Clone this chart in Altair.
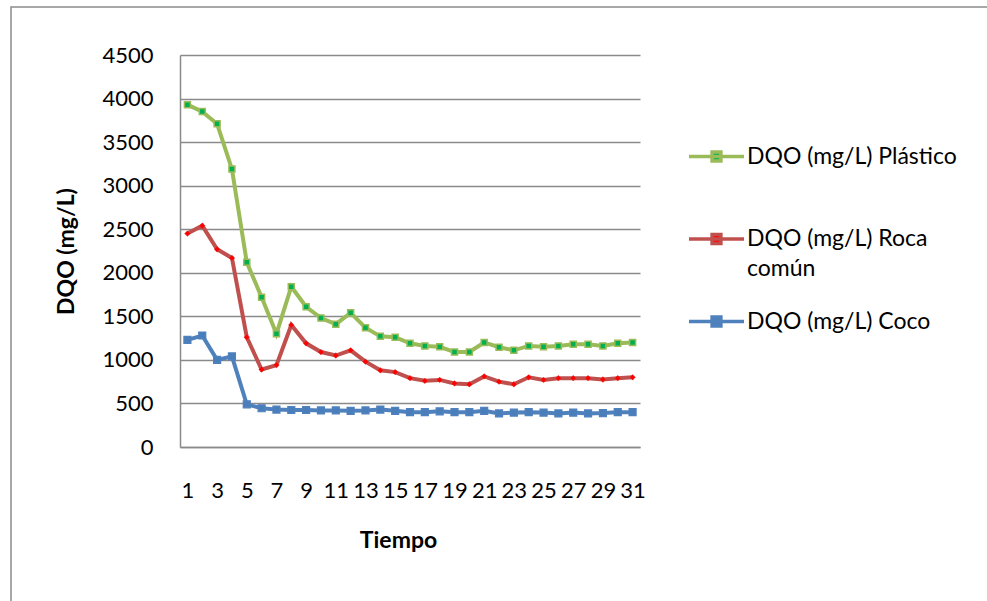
import altair as alt
import pandas as pd

# Time steps (days) and measured COD (DQO) for each filter medium
tiempo = list(range(1, 32))
plastico = [3930, 3850, 3710, 3190, 2120, 1720, 1300, 1840, 1610, 1480, 1410,
            1540, 1370, 1270, 1260, 1190, 1160, 1150, 1090, 1090, 1200, 1145,
            1110, 1160, 1150, 1160, 1180, 1180, 1160, 1190, 1200]
roca = [2450, 2540, 2270, 2170, 1260, 890, 940, 1400, 1190, 1090, 1050,
        1110, 980, 880, 860, 790, 760, 770, 730, 720, 810, 750,
        720, 800, 770, 790, 790, 790, 775, 790, 800]
coco = [1230, 1280, 1000, 1040, 490, 445, 430, 425, 425, 420, 420,
        415, 420, 430, 415, 400, 400, 410, 400, 400, 415, 385,
        395, 400, 395, 385, 395, 385, 390, 400, 400]

series = ["DQO (mg/L) Plástico", "DQO (mg/L) Roca común", "DQO (mg/L) Coco"]
line_colors = ["#9BBB59", "#C0504D", "#4F81BD"]
marker_fills = ["#00B050", "#FF0000", "#4A7EBB"]
x_ticks = list(range(1, 32, 2))
y_ticks = list(range(0, 4501, 500))

rows = []
for name, vals in zip(series, [plastico, roca, coco]):
    for t, v in zip(tiempo, vals):
        rows.append({"Tiempo": t, "DQO": v, "Serie": name})
df = pd.DataFrame(rows)

FONT = "Lato"
GRID = "#8A8A8A"

legend = alt.Legend(
    title=None,
    orient="none",
    legendX=507,
    legendY=72,
    padding=0,
    gridAlign="all",
    symbolType="M-1,0H1M-0.16,-0.16H0.16V0.16H-0.16Z",
    symbolSize=3025,
    symbolStrokeWidth=3.5,
    symbolOpacity=1,
    labelFont=FONT,
    labelFontSize=23,
    labelColor="#000000",
    labelOffset=1,
    labelLimit=400,
    rowPadding=10.5,
    labelExpr="datum.label == 'DQO (mg/L) Roca común' ? ['DQO (mg/L) Roca', 'común'] : datum.label",
)

x_enc = alt.X(
    "Tiempo:Q",
    scale=alt.Scale(domain=[0.5, 31.5], nice=False, zero=False),
    axis=alt.Axis(
        values=x_ticks, title="Tiempo", grid=False, ticks=False, tickSize=0,
        domain=True, domainColor=GRID, domainWidth=1.5,
        labelFont=FONT, labelFontSize=22, labelColor="#000000",
        labelPadding=33, labelAngle=0, labelFlush=False, labelOverlap=False,
        titleFont=FONT, titleFontSize=23, titleFontWeight="bold", titleColor="#000000",
        titleX=218, titleY=100, titleAlign="center", titleBaseline="alphabetic",
    ),
)
y_enc = alt.Y(
    "DQO:Q",
    scale=alt.Scale(domain=[0, 4500], nice=False),
    axis=alt.Axis(
        values=y_ticks, format="d", title="DQO (mg/L)", grid=True, gridColor=GRID,
        gridWidth=1.5, ticks=False, tickSize=0, domain=True, domainColor=GRID,
        domainWidth=1.5, labelFont=FONT, labelFontSize=22, labelColor="#000000",
        labelPadding=27,
        titleFont=FONT, titleFontSize=23, titleFontWeight="bold", titleColor="#000000",
        titleAngle=270, titleX=-107, titleY=196, titleAlign="center",
        titleBaseline="alphabetic",
    ),
)

base = alt.Chart(df)

lines = base.mark_line(strokeWidth=4).encode(
    x=x_enc,
    y=y_enc,
    color=alt.Color("Serie:N", scale=alt.Scale(domain=series, range=line_colors), legend=legend),
)

fill_enc = alt.Fill("Serie:N", scale=alt.Scale(domain=series, range=marker_fills), legend=legend)
stroke_enc = alt.Stroke("Serie:N", scale=alt.Scale(domain=series, range=line_colors), legend=legend)

pts_plastico = base.transform_filter(alt.datum.Serie == series[0]).mark_point(
    shape="square", filled=True, size=36, strokeWidth=1.5, opacity=1
).encode(x=x_enc, y=y_enc, fill=fill_enc, stroke=stroke_enc)

pts_roca = base.transform_filter(alt.datum.Serie == series[1]).mark_point(
    shape="diamond", filled=True, size=34, strokeWidth=0.3, opacity=1
).encode(x=x_enc, y=y_enc, fill=fill_enc, stroke=stroke_enc)

pts_coco = base.transform_filter(alt.datum.Serie == series[2]).mark_point(
    shape="square", filled=True, size=49, strokeWidth=1.2, opacity=1
).encode(x=x_enc, y=y_enc, fill=fill_enc, stroke=stroke_enc)

# Outer chart frame
frame = alt.Chart(alt.Data(values=[{}])).mark_rect(
    fill="transparent", stroke="#8C8C8C", strokeWidth=1.5
).encode(x=alt.value(-169), x2=alt.value(900), y=alt.value(-48), y2=alt.value(700))

chart = alt.layer(frame, lines, pts_coco, pts_roca, pts_plastico).properties(
    width=460,
    height=392,
    padding={"left": 180, "top": 55, "right": 347, "bottom": 154},
    autosize=alt.AutoSizeParams(type="none"),
    background="#FFFFFF",
).configure(
    font=FONT,
    style={"guide-label": {"lineHeight": 30}},
).configure_view(strokeWidth=0)

chart.save("out.html", embed_options={"renderer": "svg", "actions": False})
